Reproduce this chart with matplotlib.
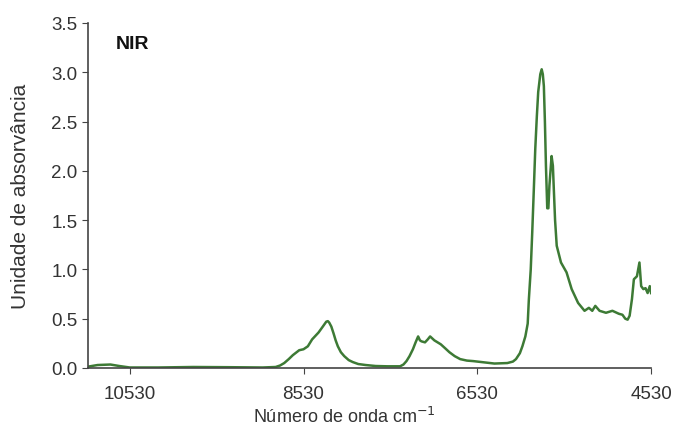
import matplotlib
matplotlib.use("Agg")
import matplotlib.pyplot as plt

# NIR spectrum
wavenumber = [11000, 10900, 10752, 10650, 10530, 10200, 9800, 9400, 9000, 8851, 8800, 8752, 8700,
              8653, 8580, 8530, 8480, 8431, 8357, 8308, 8268, 8250, 8234, 8210, 8184, 8160,
              8135, 8100, 8061, 8010, 7963, 7900, 7815, 7700, 7568, 7419, 7380, 7345, 7310,
              7271, 7240, 7211, 7190, 7172, 7132, 7100, 7073, 7024, 6950, 6900, 6851, 6790,
              6727, 6650, 6579, 6481, 6333, 6184, 6120, 6085, 6040, 6011, 5977, 5950, 5937,
              5915, 5898, 5880, 5863, 5845, 5829, 5805, 5789, 5776, 5764, 5752, 5740, 5725,
              5712, 5700, 5675, 5660, 5651, 5635, 5616, 5567, 5503, 5444, 5370,
              5296, 5246, 5207, 5172, 5123, 5049, 4975, 4901, 4860, 4827, 4800, 4777, 4750,
              4728, 4693, 4664, 4644, 4619, 4594, 4570, 4545, 4530]
absorbance = [0.015, 0.03, 0.035, 0.02, 0.005, 0.005, 0.01, 0.008, 0.005, 0.01, 0.025, 0.05, 0.09,
              0.13, 0.18, 0.19, 0.22, 0.29, 0.36, 0.42, 0.47, 0.475, 0.46, 0.42, 0.35, 0.28,
              0.22, 0.16, 0.12, 0.08, 0.06, 0.04, 0.03, 0.02, 0.017, 0.017, 0.035, 0.07, 0.12,
              0.19, 0.26, 0.32, 0.28, 0.27, 0.26, 0.29, 0.32, 0.28, 0.24, 0.2, 0.16, 0.12,
              0.09, 0.075, 0.07, 0.06, 0.045, 0.05, 0.065, 0.09, 0.15, 0.22, 0.32, 0.45, 0.69,
              1.0, 1.37, 1.8, 2.22, 2.55, 2.80, 2.98, 3.03, 2.98, 2.86, 2.5, 2.05, 1.62,
              1.62, 1.85, 2.15, 2.05, 1.85, 1.5, 1.24, 1.07, 0.97, 0.80, 0.66,
              0.58, 0.61, 0.58, 0.63, 0.58, 0.56, 0.58, 0.55, 0.54, 0.50, 0.49, 0.53, 0.7,
              0.90, 0.93, 1.07, 0.83, 0.80, 0.81, 0.76, 0.83, 0.76]

x_ticks = [10530, 8530, 6530, 4530]
y_ticks = [0.0, 0.5, 1.0, 1.5, 2.0, 2.5, 3.0, 3.5]

plt.rcParams['font.family'] = ['Liberation Sans', 'DejaVu Sans']
text_col = '#333333'

fig = plt.figure(figsize=(6.74, 4.31), dpi=100)
ax = fig.add_axes([0.1306, 0.1439, 0.8354, 0.8005])

ax.plot(wavenumber, absorbance, color='#3d7a35', linewidth=1.8)

ax.set_xlim(11010, 4530)
ax.set_ylim(0, 3.5)
ax.set_xticks(x_ticks)
ax.set_xticklabels([str(t) for t in x_ticks])
ax.set_yticks(y_ticks)
ax.set_yticklabels([f"{t:.1f}" for t in y_ticks])

for s in ['top', 'right']:
    ax.spines[s].set_visible(False)
for s in ['left', 'bottom']:
    ax.spines[s].set_color('#444444')
    ax.spines[s].set_linewidth(1.2)

ax.tick_params(axis='both', colors='#444444', labelcolor=text_col, labelsize=13.5,
               direction='out', length=4)
ax.tick_params(axis='x', pad=8)

ax.set_xlabel("Número de onda cm$^{-1}$", fontsize=13, color=text_col)
ax.xaxis.set_label_coords(0.455, -0.11)
ax.set_ylabel("Unidade de absorvância", fontsize=15, color=text_col)
ax.yaxis.set_label_coords(-0.103, 0.5)

ax.text(0.05, 0.94, "NIR", transform=ax.transAxes, fontsize=14, fontweight='bold',
        color='#111111', va='center')

fig.savefig("out.png", dpi=100)
